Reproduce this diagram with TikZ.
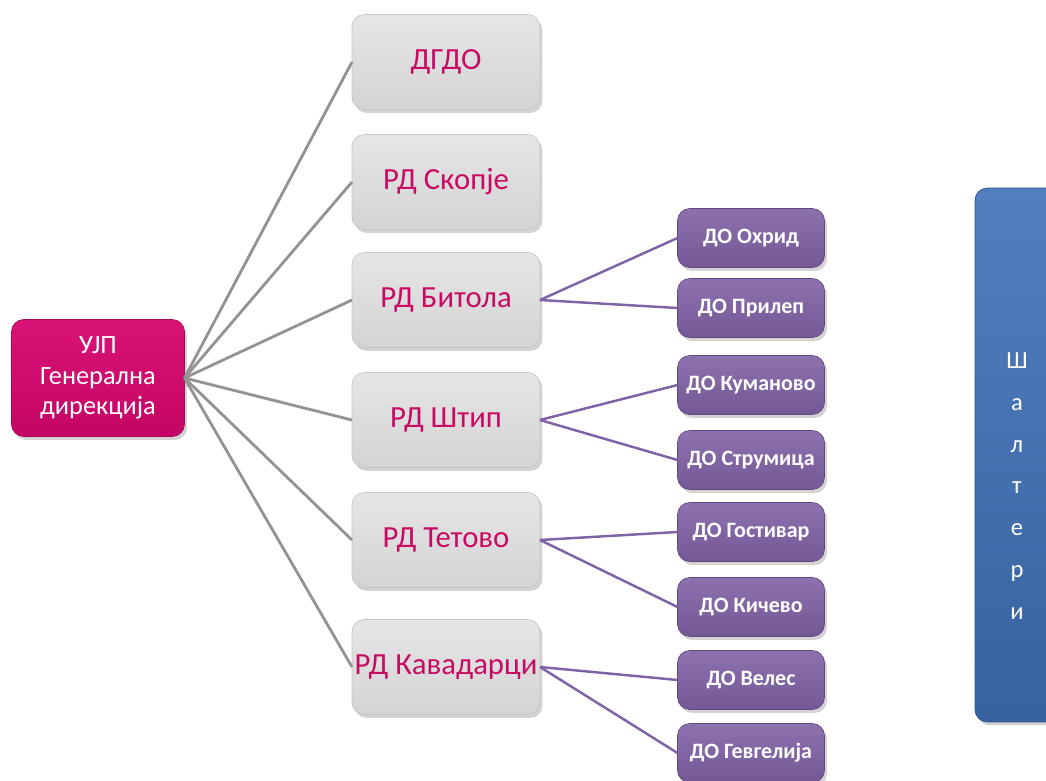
\documentclass[tikz,border=0pt]{standalone}
\usepackage{fontspec}
\setmainfont{Carlito}
\usetikzlibrary{shadows}
\definecolor{ujpred}{RGB}{214,6,110}
\definecolor{rdtext}{RGB}{200,10,100}
\definecolor{dopurple}{RGB}{128,98,166}
\definecolor{salblue}{RGB}{62,112,182}
\tikzset{
	box/.style={rectangle, rounded corners=7pt, outer sep=0pt, align=center, inner xsep=1pt,
		drop shadow={opacity=0.35, shadow xshift=0.05cm, shadow yshift=-0.07cm}},
	ujpbox/.style={box, minimum width=3.46cm, minimum height=2.34cm,
		top color=ujpred!95!white, bottom color=ujpred!92!black, draw=ujpred!80!black,
		text=white, font=\fontsize{15}{17.5}\selectfont},
	rdbox/.style={box, minimum width=3.76cm, minimum height=1.9cm,
		top color=gray!20, bottom color=gray!34, draw=gray!45,
		text=rdtext, font=\fontsize{17.5}{21}\selectfont},
	dobox/.style={box, minimum width=2.94cm, minimum height=1.18cm,
		top color=dopurple!90!white, bottom color=dopurple!90!black, draw=dopurple!75!black,
		text=white, font=\bfseries\fontsize{12.5}{15}\selectfont},
	salbox/.style={box, minimum width=1.72cm, minimum height=10.68cm,
		top color=salblue!90!white, bottom color=salblue!88!black, draw=salblue!75!black},
	grayline/.style={draw=gray!85, line width=1.6pt},
	purpleline/.style={draw=dopurple, line width=1.4pt}
}
\begin{document}
\begin{tikzpicture}[x=0.02cm, y=-0.02cm]
	\useasboundingbox (0,0) rectangle (1046,781);
	\clip (0,0) rectangle (1046,781);
	\node[ujpbox] (ujp) at (98,378) {УЈП\\Генерална\\дирекција};
	% regional offices
	\foreach \name/\txt/\y in {dgdo/ДГДО/62, skopje/РД Скопје/182, bitola/РД Битола/300,
		stip/РД Штип/420, tetovo/РД Тетово/540, kavadarci/РД Кавадарци/667}
	\node[rdbox] (\name) at (446,\y) {\txt};
	% branch offices
	\foreach \name/\txt/\y in {ohrid/ДО Охрид/238, prilep/ДО Прилеп/308,
		kumanovo/ДО Куманово/385, strumica/ДО Струмица/460,
		gostivar/ДО Гостивар/532, kicevo/ДО Кичево/607,
		veles/ДО Велес/680, gevgelija/ДО Гевгелија/753}
	\node[dobox] (\name) at (751,\y) {\txt};
	\node[salbox] (sal) at (1018,455) {};
	\node[text=white, align=center, font=\fontsize{14}{23.8}\selectfont] (saltext) at (1017,486)
		{Ш\\а\\л\\т\\е\\р\\и};
	\foreach \r in {dgdo, skopje, bitola, stip, tetovo, kavadarci}
	\draw[grayline] (ujp.east) -- (\r.west);
	\foreach \r/\d in {bitola/ohrid, bitola/prilep, stip/kumanovo, stip/strumica,
		tetovo/gostivar, tetovo/kicevo, kavadarci/veles, kavadarci/gevgelija}
	\draw[purpleline] (\r.east) -- (\d.west);
\end{tikzpicture}
\end{document}
